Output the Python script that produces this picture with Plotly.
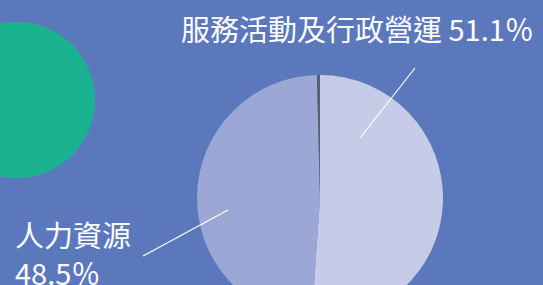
import plotly.graph_objects as go

labels = ["服務活動及行政營運", "人力資源", "其他"]
values = [51.1, 48.5, 0.4]
slice_colors = ["#c6cbe7", "#9ba8d6", "#5b6070"]

W, H = 543, 330
BG = "#5b78bd"

def px_x(v):
    return v / W

def px_y(v):
    return 1 - v / H

cx, cy, r = 320, 198, 123

fig = go.Figure()
fig.add_trace(go.Pie(
    labels=labels, values=values, sort=False, direction="clockwise", rotation=0,
    marker=dict(colors=slice_colors, line=dict(width=0)),
    textinfo="none", hoverinfo="none", showlegend=False,
    domain=dict(x=[px_x(cx - r), px_x(cx + r)], y=[px_y(cy + r), px_y(cy - r)]),
))

font = dict(family="Noto Sans CJK TC, Noto Sans, sans-serif", size=29, color="white")

annotations = [
    dict(x=px_x(536), y=px_y(28), xanchor="right", yanchor="middle",
         text=f"{labels[0]} {values[0]}％", showarrow=False, font=font),
    dict(x=px_x(13), y=px_y(253), xanchor="left", yanchor="middle", align="left",
         text=f"{labels[1]}<br>{values[1]}％", showarrow=False, font=font),
]

shapes = [
    dict(type="circle", xref="paper", yref="paper",
         x0=px_x(17 - 78), x1=px_x(17 + 78), y0=px_y(178), y1=px_y(22),
         fillcolor="#1bb38f", line=dict(width=0), layer="below"),
    dict(type="line", xref="paper", yref="paper",
         x0=px_x(360), y0=px_y(138), x1=px_x(415), y1=px_y(68),
         line=dict(color="white", width=1.2)),
    dict(type="line", xref="paper", yref="paper",
         x0=px_x(143), y0=px_y(256), x1=px_x(228), y1=px_y(210),
         line=dict(color="white", width=1.2)),
]

fig.update_layout(
    width=W, height=H, margin=dict(l=0, r=0, t=0, b=0),
    paper_bgcolor=BG, plot_bgcolor=BG,
    annotations=annotations, shapes=shapes,
)

fig.write_html("out.html", config={"displayModeBar": False},
               post_script="document.body.style.margin='0';document.body.style.overflow='hidden';document.body.style.background='" + BG + "';")
